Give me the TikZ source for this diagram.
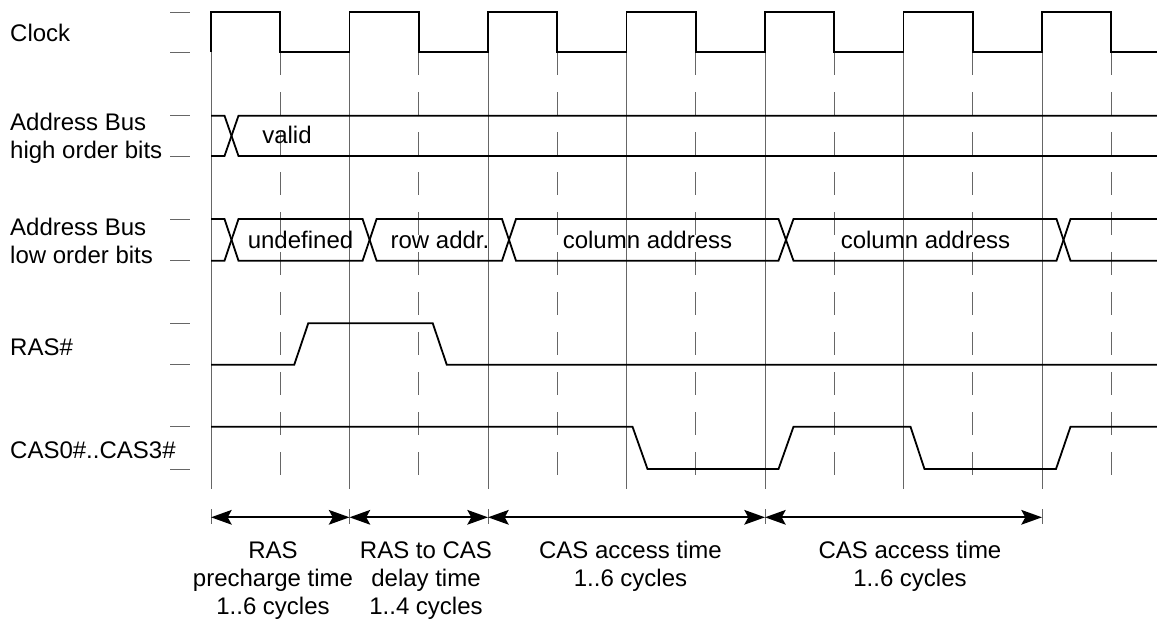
\documentclass[tikz,border=0pt]{standalone}
\usepackage{fontspec}
\setmainfont{Liberation Sans}
\usetikzlibrary{arrows.meta}
\begin{document}
\begin{tikzpicture}[x=1pt,y=-1pt,
  every node/.style={font=\fontsize{24}{28}\selectfont, inner sep=0pt},
  sig/.style={line width=1.8pt, line join=miter},
  gridline/.style={draw=black!60, line width=0.9pt},
  halfline/.style={gridline, dash pattern=on 23pt off 17pt},
  levelmark/.style={draw=black!60, line width=0.9pt},
  tip/.tip={Stealth[length=20.7pt,width=14.7pt,inset=4pt]},
  span/.style={line width=1.7pt, tip-tip}]
\useasboundingbox (0,0) rectangle (1157,625);

% clock cycle boundaries (solid) and half-cycle marks (dashed)
\foreach \k in {0,...,6} {
  \draw[gridline] ({211+138.5*\k},12) -- ({211+138.5*\k},489);
  \draw[halfline] ({280.25+138.5*\k},52) -- ({280.25+138.5*\k},489);
}

% level marks on the left of every signal
\foreach \y in {12,52,115.7,156,219,260.7,323.3,364.7,426.7,469}
  \draw[levelmark] (170,\y) -- (190,\y);

% signal names (base anchor = baseline of the last line)
\node[anchor=base west] (clk) at (10,41) {Clock};
\node[anchor=base west, align=left] (ahi) at (10,158.5) {Address Bus\\high order bits};
\node[anchor=base west, align=left] (alo) at (10,263) {Address Bus\\low order bits};
\node[anchor=base west] (ras) at (10,355) {RAS\#};
\node[anchor=base west] (cas) at (10,458.3) {CAS0\#..CAS3\#};

% clock
\draw[sig] (211,52) -- (211,12) -- (280.25,12) -- (280.25,52)
  -- (349.5,52) -- (349.5,12) -- (418.75,12) -- (418.75,52)
  -- (488,52) -- (488,12) -- (557.25,12) -- (557.25,52)
  -- (626.5,52) -- (626.5,12) -- (695.75,12) -- (695.75,52)
  -- (765,52) -- (765,12) -- (834.25,12) -- (834.25,52)
  -- (903.5,52) -- (903.5,12) -- (972.75,12) -- (972.75,52)
  -- (1042,52) -- (1042,12) -- (1111.25,12) -- (1111.25,52)
  -- (1157,52);

% address bus, high order bits
\draw[sig] (211,115.7) -- (224.5,115.7) -- (238.5,156) -- (1157,156);
\draw[sig] (211,156) -- (224.5,156) -- (238.5,115.7) -- (1157,115.7);
\node[anchor=base] (valid) at (287,143.3) {valid};

% address bus, low order bits
\draw[sig] (211,219) -- (224.5,219) -- (238.5,260.7) -- (362.6,260.7)
  -- (376.6,219) -- (502,219) -- (516,260.7) -- (778.5,260.7)
  -- (793.5,219) -- (1056.5,219) -- (1070.5,260.7) -- (1157,260.7);
\draw[sig] (211,260.7) -- (224.5,260.7) -- (238.5,219) -- (362.6,219)
  -- (376.6,260.7) -- (502,260.7) -- (516,219) -- (778.5,219)
  -- (793.5,260.7) -- (1056.5,260.7) -- (1070.5,219) -- (1157,219);
\node[anchor=base] (undef) at (300.5,248.3) {undefined};
\node[anchor=base] (row) at (440,248.3) {row addr.};
\node[anchor=base] (col1) at (647.5,248.3) {column address};
\node[anchor=base] (col2) at (925.5,248.3) {column address};

% RAS#
\draw[sig] (211,364.7) -- (294.25,364.7) -- (308.25,323.3) -- (432.75,323.3)
  -- (446.75,364.7) -- (1157,364.7);

% CAS0#..CAS3#
\draw[sig] (211,426.7) -- (632.5,426.7) -- (647.5,469) -- (778.5,469)
  -- (793.5,426.7) -- (910.5,426.7) -- (924.5,469) -- (1056,469)
  -- (1070.5,426.7) -- (1157,426.7);

% timing spans
\foreach \n/\x in {s0/211, s1/349.5, s2/488, s3/765, s4/1042} {
  \coordinate (\n) at (\x,517.3);
  \draw[levelmark] (\x,509.3) -- (\x,524.3);
}
\draw[span] (s0) -- (s1);
\draw[span] (s1) -- (s2);
\draw[span] (s2) -- (s3);
\draw[span] (s3) -- (s4);

\node[anchor=base, align=center] (pre) at (273,614.3) {RAS\\precharge time\\1..6 cycles};
\node[anchor=base, align=center] (dly) at (426,614.3) {RAS to CAS\\delay time\\1..4 cycles};
\node[anchor=base, align=center] (acc1) at (630.5,586.3) {CAS access time\\1..6 cycles};
\node[anchor=base, align=center] (acc2) at (910,586.3) {CAS access time\\1..6 cycles};
\end{tikzpicture}
\end{document}
